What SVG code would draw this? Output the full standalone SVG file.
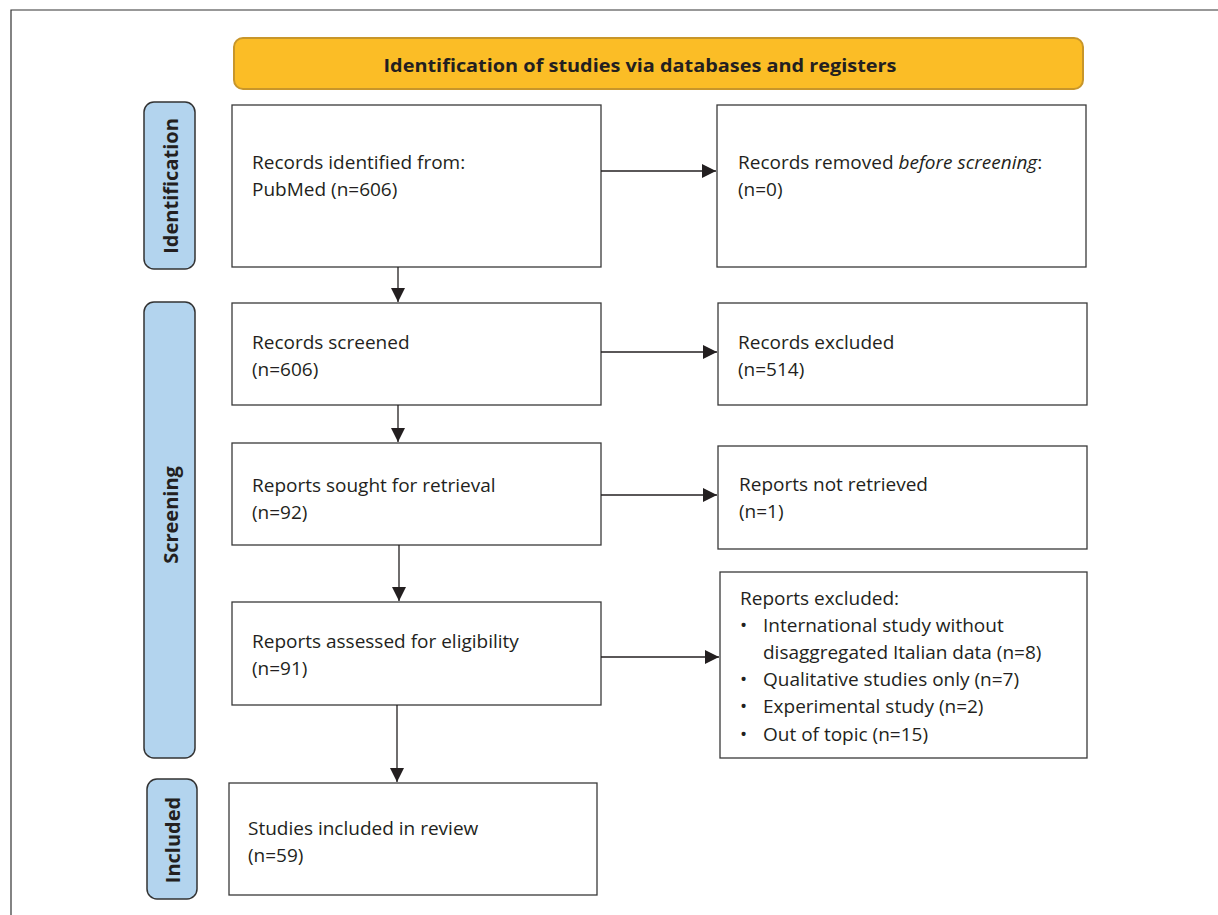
<svg xmlns="http://www.w3.org/2000/svg" width="1218" height="915" viewBox="0 0 1218 915">
<style>
.box{fill:#fff;stroke:#3a3a3a;stroke-width:1.3}
.side{fill:#b3d4ee;stroke:#333;stroke-width:1.5}
.t{font-family:"Open Sans","Liberation Sans",sans-serif;font-size:19px;fill:#231f20}
.s{font-family:"Open Sans","Liberation Sans",sans-serif;font-size:20px;font-weight:bold;fill:#231f20;text-anchor:middle}
.c{stroke:#231f20;stroke-width:1.3;fill:none;marker-end:url(#ah)}
</style>
<defs>
<marker id="ah" viewBox="0 0 10 10" refX="10" refY="5" markerWidth="14" markerHeight="14" markerUnits="userSpaceOnUse" orient="auto">
<path d="M0,0 L10,5 L0,10 z" fill="#231f20"/>
</marker>
</defs>
<rect width="1218" height="915" fill="#fff"/>
<path d="M11,915 V10 H1218" fill="none" stroke="#333" stroke-width="1.2"/>
<g id="banner">
<rect x="234" y="38" width="849" height="51" rx="9" fill="#fbbd26" stroke="#c8962a" stroke-width="2"/>
<text x="640" y="72" font-family="Open Sans, Liberation Sans, sans-serif" font-size="17" font-weight="bold" fill="#231f20" text-anchor="middle" textLength="513" lengthAdjust="spacingAndGlyphs">Identification of studies via databases and registers</text>
</g>
<g id="side-identification">
<rect class="side" x="144" y="102" width="51" height="167" rx="10"/>
<text class="s" transform="translate(178,186) rotate(-90)">Identification</text>
</g>
<g id="side-screening">
<rect class="side" x="144" y="302" width="51" height="456" rx="10"/>
<text class="s" transform="translate(178,515) rotate(-90)">Screening</text>
</g>
<g id="side-included">
<rect class="side" x="147" y="779" width="50" height="120" rx="10"/>
<text class="s" transform="translate(180,840) rotate(-90)">Included</text>
</g>
<g id="n-identified">
<rect class="box" x="232" y="105" width="369" height="162"/>
<text class="t" x="252" y="169">Records identified from:</text>
<text class="t" x="252" y="196">PubMed (n=606)</text>
</g>
<g id="n-removed">
<rect class="box" x="717" y="105" width="369" height="162"/>
<text class="t" x="738" y="169">Records removed <tspan font-style="italic">before screening</tspan>:</text>
<text class="t" x="738" y="196">(n=0)</text>
</g>
<g id="n-screened">
<rect class="box" x="232" y="303" width="369" height="102"/>
<text class="t" x="252" y="349">Records screened</text>
<text class="t" x="252" y="376">(n=606)</text>
</g>
<g id="n-excluded">
<rect class="box" x="718" y="303" width="369" height="102"/>
<text class="t" x="738" y="349">Records excluded</text>
<text class="t" x="738" y="376">(n=514)</text>
</g>
<g id="n-sought">
<rect class="box" x="232" y="443" width="369" height="102"/>
<text class="t" x="252" y="492">Reports sought for retrieval</text>
<text class="t" x="252" y="519">(n=92)</text>
</g>
<g id="n-notretrieved">
<rect class="box" x="718" y="446" width="369" height="103"/>
<text class="t" x="739" y="491">Reports not retrieved</text>
<text class="t" x="739" y="518">(n=1)</text>
</g>
<g id="n-assessed">
<rect class="box" x="232" y="602" width="369" height="103"/>
<text class="t" x="252" y="648">Reports assessed for eligibility</text>
<text class="t" x="252" y="675">(n=91)</text>
</g>
<g id="n-reportsexcluded">
<rect class="box" x="720" y="572" width="367" height="186"/>
<text class="t" x="740" y="605">Reports excluded:</text>
<text class="t" x="740" y="632">•</text><text class="t" x="763" y="632">International study without</text>
<text class="t" x="763" y="659">disaggregated Italian data (n=8)</text>
<text class="t" x="740" y="686">•</text><text class="t" x="763" y="686">Qualitative studies only (n=7)</text>
<text class="t" x="740" y="713">•</text><text class="t" x="763" y="713">Experimental study (n=2)</text>
<text class="t" x="740" y="741">•</text><text class="t" x="763" y="741">Out of topic (n=15)</text>
</g>
<g id="n-included">
<rect class="box" x="229" y="783" width="368" height="112"/>
<text class="t" x="248" y="835">Studies included in review</text>
<text class="t" x="248" y="862">(n=59)</text>
</g>
<g id="connectors">
<line class="c" x1="601" y1="171" x2="716" y2="171"/>
<line class="c" x1="398" y1="267" x2="398" y2="302"/>
<line class="c" x1="601" y1="352" x2="717" y2="352"/>
<line class="c" x1="398" y1="405" x2="398" y2="442"/>
<line class="c" x1="601" y1="495" x2="717" y2="495"/>
<line class="c" x1="399" y1="545" x2="399" y2="601"/>
<line class="c" x1="601" y1="657" x2="719" y2="657"/>
<line class="c" x1="397" y1="705" x2="397" y2="782"/>
</g>
</svg>
